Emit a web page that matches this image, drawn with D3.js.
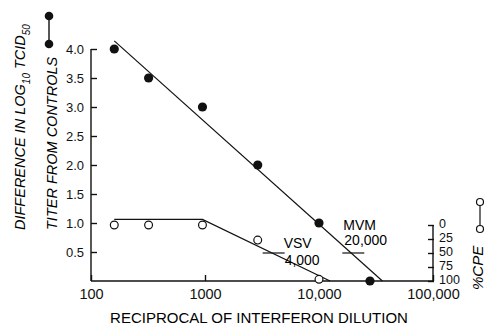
<!DOCTYPE html>
<html>
<head>
<meta charset="utf-8">
<script src="https://cdn.jsdelivr.net/npm/d3@7"></script>
<style>
  body { margin: 0; background: #fff; }
  svg { font-family: "Liberation Sans", Arial, sans-serif; }
  .axis path, .axis line { stroke: #111; stroke-width: 1.4; }
  .axis text { fill: #111; }
</style>
</head>
<body>
<div id="chart"></div>
<script>
// titer difference (filled circles, left axis)
const titerX = [160, 320, 950, 2900, 10000, 28000];
const titerDiff = [4.0, 3.5, 3.0, 2.0, 1.0, 0];
const titerFit = [[160, 4.14], [36000, 0]];

// % CPE (open circles, right axis)
const cpeX = [160, 320, 950, 2900, 10000];
const cpeVal = [0, 0, 0, 27, 97];
const cpeFit = [[160, -10], [950, -10], [12500, 100]];

// 50% endpoints
const endpoints = [
  {name: "VSV", dose: 4000, label: "4,000"},
  {name: "MVM", dose: 20000, label: "20,000"}
];

const xTicks = [100, 1000, 10000, 100000];
const xTickLabels = ["100", "1000", "10,000", "100,000"];
const yTicks = [0.5, 1.0, 1.5, 2.0, 2.5, 3.0, 3.5, 4.0];
const cpeTicks = [0, 25, 50, 75, 100];

const width = 486, height = 329;

const svg = d3.select("#chart")
  .append("svg")
    .attr("width", width)
    .attr("height", height);

const x = d3.scaleLog()
  .domain([100, 100000])
  .range([91, 433]);

const y = d3.scaleLinear()
  .domain([0, 4])
  .range([281, 49]);

const yc = d3.scaleLinear()
  .domain([0, 100])
  .range([225, 281]);

// Add X axis
const xAxis = svg.append("g")
  .attr("class", "axis")
  .attr("transform", `translate(0, ${y(0)})`)
  .call(d3.axisBottom(x).tickValues(xTicks).tickSize(-6).tickSizeOuter(0)
    .tickFormat((d, i) => xTickLabels[i]));
xAxis.selectAll("text")
  .attr("dy", "0")
  .attr("y", 18)
  .style("font-size", "14.5px");
xAxis.select(".domain").attr("d", `M${x(100)},0H${x(100000)}`);

// Add Y axis
const yAxis = svg.append("g")
  .attr("class", "axis")
  .attr("transform", `translate(${x(100)}, 0)`)
  .call(d3.axisLeft(y).tickValues(yTicks).tickSize(-6).tickSizeOuter(0)
    .tickFormat(d3.format(".1f")));
yAxis.selectAll("text")
  .attr("x", -7)
  .style("font-size", "13px");
yAxis.select(".domain").attr("d", `M0,${y(4)}V${y(0)}`);

// Add right CPE axis
const cAxis = svg.append("g")
  .attr("class", "axis")
  .attr("transform", `translate(${x(100000)}, 0)`)
  .call(d3.axisRight(yc).tickValues(cpeTicks).tickSize(-5).tickSizeOuter(0));
cAxis.selectAll("text")
  .attr("x", 6)
  .attr("dy", "0.22em")
  .style("font-size", "12.5px");
cAxis.select(".domain").attr("d", `M0,${yc(0)}V${yc(100)}`);
cAxis.selectAll(".tick line").attr("x1", 1);

const line = d3.line()
  .x(d => x(d[0]));

// fitted lines
svg.append("path")
  .attr("d", line.y(d => y(d[1]))(titerFit))
  .attr("fill", "none")
  .attr("stroke", "#111")
  .attr("stroke-width", 1.2);

svg.append("path")
  .attr("d", line.y(d => yc(d[1]))(cpeFit))
  .attr("fill", "none")
  .attr("stroke", "#111")
  .attr("stroke-width", 1.2);

// Add dots
svg.append("g")
  .selectAll("circle")
  .data(titerX)
  .join("circle")
    .attr("cx", d => x(d))
    .attr("cy", (d, i) => y(titerDiff[i]))
    .attr("r", 4.6)
    .attr("fill", "#111");

svg.append("g")
  .selectAll("circle")
  .data(cpeX)
  .join("circle")
    .attr("cx", d => x(d))
    .attr("cy", (d, i) => yc(cpeVal[i]))
    .attr("r", 3.9)
    .attr("fill", "#fff")
    .attr("stroke", "#111")
    .attr("stroke-width", 1.2);

// 50% endpoint marks
const ep = svg.append("g").selectAll("g")
  .data(endpoints)
  .join("g");
ep.append("line")
  .attr("x1", d => x(d.dose) - 11)
  .attr("x2", d => x(d.dose) + 11)
  .attr("y1", yc(50))
  .attr("y2", yc(50))
  .attr("stroke", "#111")
  .attr("stroke-width", 1.2);
ep.append("text")
  .attr("x", (d, i) => x(d.dose) + (i === 0 ? 10 : -10))
  .attr("y", (d, i) => yc(50) + (i === 0 ? -5 : -23))
  .style("font-size", "14px")
  .text(d => d.name);
ep.append("text")
  .attr("x", (d, i) => x(d.dose) + (i === 0 ? 11 : -9))
  .attr("y", (d, i) => yc(50) + (i === 0 ? 12 : -8))
  .style("font-size", "14px")
  .text(d => d.label);

// axis titles
svg.append("text")
  .attr("x", 259)
  .attr("y", 323)
  .attr("text-anchor", "middle")
  .style("font-size", "15px")
  .text("RECIPROCAL OF INTERFERON DILUTION");

const t1 = svg.append("text")
  .attr("transform", "translate(25,230) rotate(-90)")
  .style("font-size", "14.5px")
  .style("font-style", "italic");
t1.append("tspan").text("DIFFERENCE IN LOG");
t1.append("tspan").attr("dy", 5).style("font-size", "10px").text("10");
t1.append("tspan").attr("dy", -5).text(" TCID");
t1.append("tspan").attr("dy", 5).style("font-size", "10px").text("50");

svg.append("text")
  .attr("transform", "translate(57,230) rotate(-90)")
  .style("font-size", "14.5px")
  .style("font-style", "italic")
  .text("TITER FROM CONTROLS");

svg.append("text")
  .attr("transform", "translate(483,290) rotate(-90)")
  .style("font-size", "15px")
  .style("font-style", "italic")
  .text("%CPE");

// legend symbols
const legFilled = [16, 44];
svg.append("line")
  .attr("x1", 49).attr("x2", 49)
  .attr("y1", legFilled[0]).attr("y2", legFilled[1])
  .attr("stroke", "#111").attr("stroke-width", 1.4);
svg.append("g").selectAll("circle")
  .data(legFilled)
  .join("circle")
    .attr("cx", 49)
    .attr("cy", d => d)
    .attr("r", 4.3)
    .attr("fill", "#111");

const legOpen = [202, 229];
svg.append("line")
  .attr("x1", 480).attr("x2", 480)
  .attr("y1", legOpen[0]).attr("y2", legOpen[1])
  .attr("stroke", "#111").attr("stroke-width", 1.2);
svg.append("g").selectAll("circle")
  .data(legOpen)
  .join("circle")
    .attr("cx", 480)
    .attr("cy", d => d)
    .attr("r", 3.5)
    .attr("fill", "#fff")
    .attr("stroke", "#111")
    .attr("stroke-width", 1.2);
</script>
</body>
</html>
